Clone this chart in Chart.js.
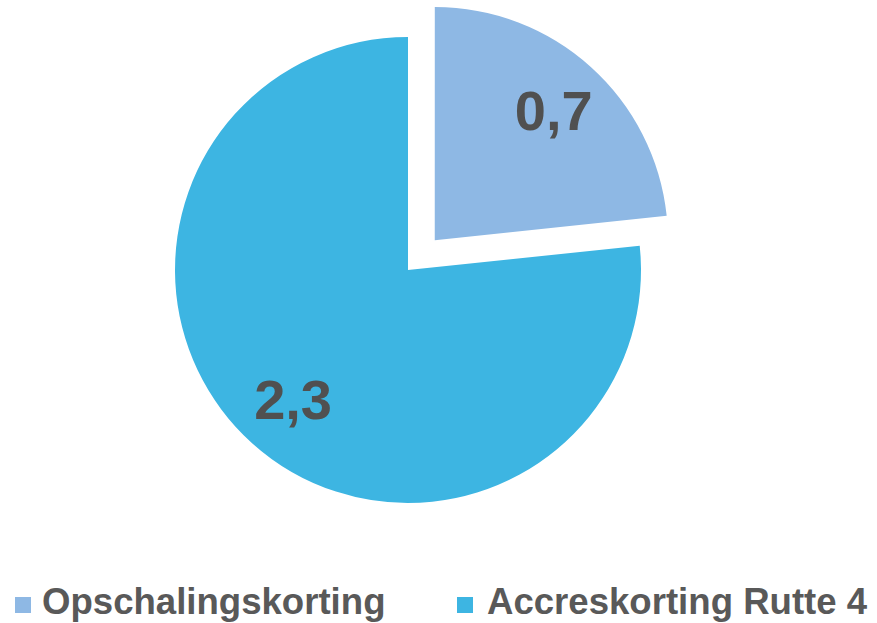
<!DOCTYPE html>
<html>
<head>
<meta charset="utf-8">
<script src="https://cdn.jsdelivr.net/npm/chart.js@4.4.0/dist/chart.umd.min.js"></script>
<style>
    html, body { margin: 0; padding: 0; background: #fff; }
    #wrap { position: relative; width: 877px; height: 623px; overflow: hidden; }
    #chartBox { position: absolute; left: 0; top: 0; width: 877px; height: 540px; }
    .legend-item {
        position: absolute;
        top: 582px;
        font-family: "Liberation Sans", Arial, sans-serif;
        font-weight: bold;
        font-size: 36.6px;
        line-height: 40px;
        color: #595959;
        white-space: nowrap;
    }
    .legend-item span.box {
        position: absolute;
        top: 15px;
        width: 16px;
        height: 16px;
    }
</style>
</head>
<body>
<div id="wrap">
    <div id="chartBox"><canvas id="pieChart"></canvas></div>
    <div id="legend"></div>
</div>
<script>
const categories = ["Opschalingskorting", "Accreskorting Rutte 4"];
const values = [0.7, 2.3];
const valueLabels = ["0,7", "2,3"];
const sliceColors = ["#8eb8e4", "#3db5e2"];
const sliceOffsets = [160, 0]; // chart.js moves the arc by offset / 4

document.addEventListener("DOMContentLoaded", function () {
    const canvas = document.getElementById("pieChart");

    // draws the value text inside each slice
    const sliceLabels = {
        id: "sliceLabels",
        afterDatasetsDraw(chart) {
            const ctx = chart.ctx;
            const meta = chart.getDatasetMeta(0);
            ctx.save();
            ctx.font = "bold 56px 'Liberation Sans', Arial, sans-serif";
            ctx.fillStyle = "#505050";
            ctx.textAlign = "center";
            ctx.textBaseline = "middle";
            meta.data.forEach((arc, i) => {
                const p = arc.getProps(["x", "y", "startAngle", "endAngle", "outerRadius"], true);
                const mid = (p.startAngle + p.endAngle) / 2;
                const shift = (arc.options.offset || 0) / 4;
                const r = p.outerRadius * 0.75 + shift;
                ctx.fillText(valueLabels[i], p.x + Math.cos(mid) * r + 2, p.y + Math.sin(mid) * r + 4);
            });
            ctx.restore();
        }
    };

    new Chart(canvas, {
        type: "pie",
        data: {
            labels: categories,
            datasets: [{
                data: values,
                backgroundColor: sliceColors,
                borderWidth: 0,
                hoverBorderWidth: 0,
                offset: sliceOffsets,
                hoverOffset: 0,
                radius: 233,
            }]
        },
        options: {
            responsive: true,
            maintainAspectRatio: false,
            animation: false,
            events: [],
            layout: {
                padding: { left: 0, right: 61, top: 0, bottom: 0 }
            },
            plugins: {
                legend: { display: false },
                tooltip: { enabled: false },
            },
        },
        plugins: [sliceLabels],
    });

    // html legend below the pie
    const legend = document.getElementById("legend");
    const legendLeft = [15, 457];
    categories.forEach((name, i) => {
        const item = document.createElement("div");
        item.className = "legend-item";
        item.style.left = legendLeft[i] + "px";
        item.style.paddingLeft = (i === 0 ? 27 : 30) + "px";
        const box = document.createElement("span");
        box.className = "box";
        box.style.left = "0px";
        box.style.background = sliceColors[i];
        item.appendChild(box);
        item.appendChild(document.createTextNode(name));
        legend.appendChild(item);
    });
});
</script>
</body>
</html>
